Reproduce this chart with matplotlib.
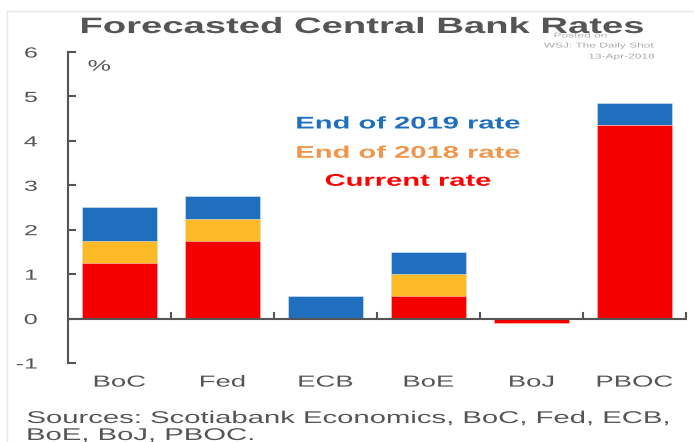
import numpy as np
import matplotlib.pyplot as plt
from matplotlib.lines import Line2D
from matplotlib.patheffects import AbstractPathEffect
from matplotlib.transforms import Affine2D

plt.rcParams['font.family'] = ['Liberation Sans', 'DejaVu Sans']

banks = ['BoC', 'Fed', 'ECB', 'BoE', 'BoJ', 'PBOC']
current = [1.25, 1.75, 0.0, 0.5, -0.1, 4.35]
end_2018 = [1.75, 2.25, 0.0, 1.0, -0.1, 4.35]
end_2019 = [2.5, 2.75, 0.5, 1.5, -0.1, 4.85]
ytick_vals = [-1, 0, 1, 2, 3, 4, 5, 6]
ytick_text = ['-1', '0', '1', '2', '3', '4', '5', '6']

blue = '#1f6fbe'
yellow = '#fbba26'
red = '#f50000'
grey = '#555555'
WIDE = 1.72


class Wide(AbstractPathEffect):
    """Stretch glyphs horizontally about the text's anchor side."""

    def __init__(self, sx=WIDE, ha='center'):
        super().__init__()
        self.sx = sx
        self.ha = ha

    def draw_path(self, renderer, gc, tpath, affine, rgbFace=None):
        ext = tpath.get_extents(affine)
        x0 = {'left': ext.x0, 'center': 0.5 * (ext.x0 + ext.x1), 'right': ext.x1}[self.ha]
        t = affine + Affine2D().translate(-x0, 0).scale(self.sx, 1).translate(x0, 0)
        renderer.draw_path(gc, tpath, t, rgbFace)


def wtext(obj, *args, ha='center', **kw):
    return obj.text(*args, ha=ha, path_effects=[Wide(ha=ha)], **kw)


fig = plt.figure(figsize=(6.94, 4.42), dpi=100)
ax = fig.add_axes([68/694, 79/442, 618/694, 311/442])

x = np.arange(len(banks))
w = 0.72
# the forecasts overlap: later horizon drawn first, current rate on top
ax.bar(x, end_2019, w, color=blue, edgecolor='#dbe6f3', linewidth=0.4)
ax.bar(x, end_2018, w, color=yellow, edgecolor='#fdeecb', linewidth=0.4)
ax.bar(x, current, w, color=red, edgecolor='#fdd0d0', linewidth=0.4)

ax.set_xlim(-0.5, len(banks) - 0.5)
ax.set_ylim(-1, 6)
ax.axhline(0, color=grey, lw=1.5, zorder=3)

for s in ['top', 'right', 'bottom']:
    ax.spines[s].set_visible(False)
ax.spines['left'].set_color(grey)
ax.spines['left'].set_linewidth(1.5)

ax.set_yticks(ytick_vals)
ax.set_yticklabels(ytick_text)
ax.tick_params(axis='y', direction='in', length=6, width=1.5, color=grey,
               labelsize=10.5, labelcolor=grey, pad=22)
for lab in ax.get_yticklabels():
    lab.set_path_effects([Wide(ha='right')])

# category labels below the plot, boundary ticks on the zero line
ax.set_xticks([])
for i, b in enumerate(banks):
    wtext(ax, i, -1.43, b, va='center', fontsize=11.5, color=grey)
for edge in np.arange(0.5, len(banks)):
    ax.plot([edge, edge], [0, 0.12], color=grey, lw=1.5, zorder=3)
ax.plot([len(banks) - 0.5 - 0.003] * 2, [0, 0.12], color=grey, lw=1.5, zorder=3, clip_on=False)

wtext(ax, -0.306, 5.67, '%', ha='left', va='center', fontsize=11, color=grey)

wtext(ax, 2.8, 4.38, 'End of 2019 rate', va='center',
      fontsize=12.2, fontweight='bold', color=blue)
wtext(ax, 2.8, 3.72, 'End of 2018 rate', va='center',
      fontsize=12.2, fontweight='bold', color='#f0954a')
wtext(ax, 2.8, 3.09, 'Current rate', va='center',
      fontsize=12.2, fontweight='bold', color='#ff0000')

wtext(fig, 362/694, 1 - 33/442, 'Forecasted Central Bank Rates', va='baseline',
      fontsize=16, fontweight='bold', color=grey)
wtext(fig, 554/694, 1 - 36/442, 'Posted on', ha='left', va='center', fontsize=5, color='#b0b0b0')
wtext(fig, 655/694, 1 - 46/442, 'WSJ: The Daily Shot', ha='right', va='center', fontsize=5, color='#aaaaaa')
wtext(fig, 655/694, 1 - 57/442, '13-Apr-2018', ha='right', va='center', fontsize=5, color='#aaaaaa')

wtext(fig, 27/694, 1 - 423/442, 'Sources: Scotiabank Economics, BoC, Fed, ECB,',
      ha='left', va='baseline', fontsize=12.25, color=grey)
wtext(fig, 27/694, 1 - 440/442, 'BoE, BoJ, PBOC.',
      ha='left', va='baseline', fontsize=12.25, color=grey)

# light frame along the left and top edges
fig.add_artist(Line2D([7/694, 7/694], [0, 1 - 11/442], color='#e6e6e6', lw=1))
fig.add_artist(Line2D([7/694, 1], [1 - 11/442, 1 - 11/442], color='#e6e6e6', lw=1))

fig.savefig('out.png', dpi=100)
